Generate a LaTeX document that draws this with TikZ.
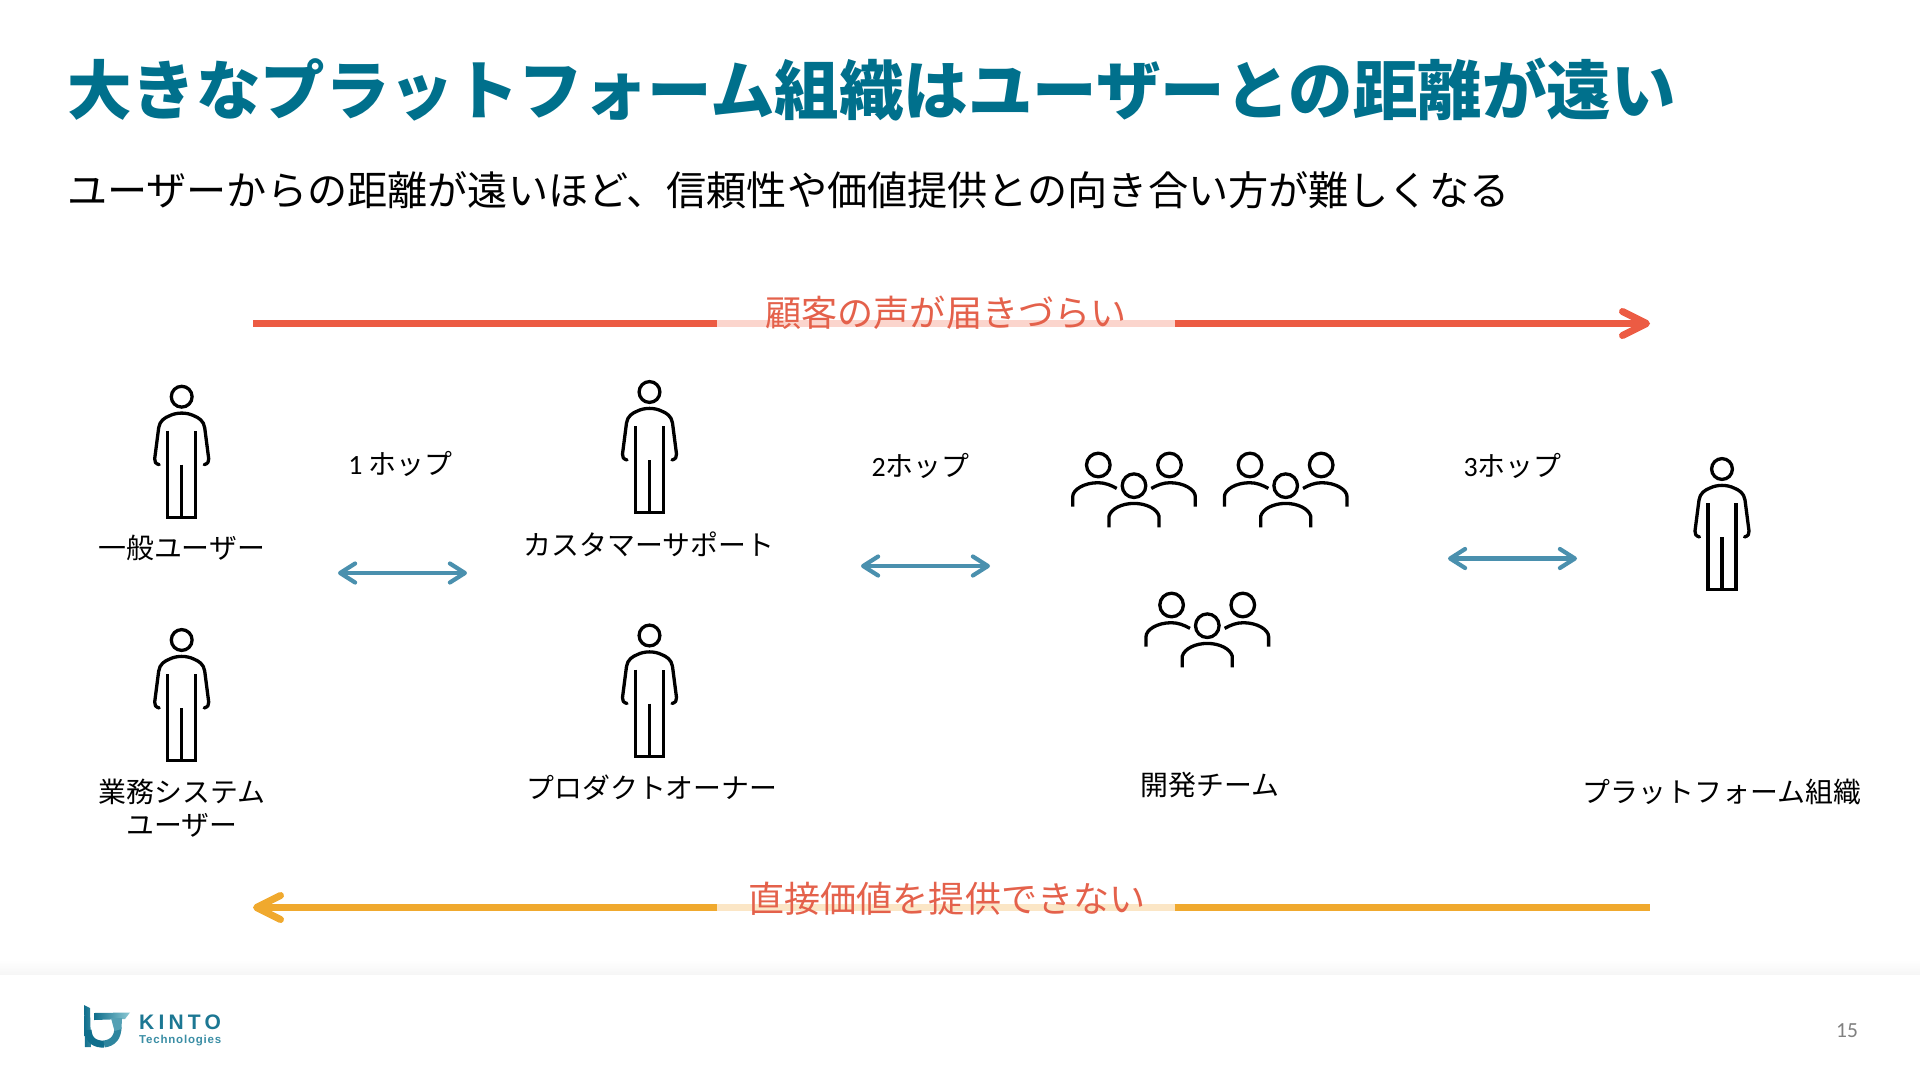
\documentclass[tikz,border=0pt]{standalone}
\usepackage{fontspec}
\usetikzlibrary{arrows.meta}
\setmainfont{Noto Sans CJK JP}
\newfontfamily\cjk{Noto Sans CJK JP}
\newfontfamily\latinf{Carlito}
\newfontfamily\kintof[LetterSpace=20]{Liberation Sans}
\newfontfamily\techf[LetterSpace=7]{Liberation Sans}
\definecolor{titleteal}{HTML}{00708C}
\definecolor{redline}{HTML}{EC5B43}
\definecolor{redfade}{HTML}{FBD5CD}
\definecolor{redtext}{HTML}{E4614B}
\definecolor{amber}{HTML}{F0A92E}
\definecolor{amberfade}{HTML}{FBE6C6}
\definecolor{hopblue}{HTML}{4A90AE}
\definecolor{logoA}{HTML}{0F6E8C}
\definecolor{logoB}{HTML}{8CC9D4}
\tikzset{
  x=1pt,y=-1pt,
  icon/.style={draw=black,line width=3.3pt,fill=none},
  person/.pic={
    \draw[icon] (0,0) circle (10.4);
    \draw[icon,line cap=round,line join=round] (-22.5,68) .. controls (-26,67) and (-27.5,65) .. (-27,62)
      -- (-23,31) .. controls (-22,24) and (-17,21) .. (-12,19) .. controls (-5,15.5) and (5,15.5) .. (12,19)
      .. controls (17,21) and (22,24) .. (23,31) -- (27,62) .. controls (27.5,65) and (26,67) .. (22.5,68);
    \draw[icon,line cap=butt,line join=miter] (-14,34) -- (-14,120.7) -- (14,120.7) -- (14,34);
    \draw[icon,line cap=butt] (0,68) -- (0,120.7);
  },
  team/.pic={
    \foreach \hx/\hy in {-35.7/-20.7,0/0,35.5/-20.7} \draw[icon] (\hx,\hy) circle (11.8);
    \draw[icon] (-61.3,21) -- (-61.3,11) .. controls (-61.3,4) and (-50,-3) .. (-36,-3) .. controls (-29,-3) and (-23,-0.5) .. (-17.3,2.7);
    \draw[icon] (61.3,21) -- (61.3,11) .. controls (61.3,4) and (50,-3) .. (36,-3) .. controls (29,-3) and (23,-0.5) .. (17.3,2.7);
    \draw[icon] (-25,41.7) -- (-25,30.5) .. controls (-23,23) and (-12,17.7) .. (0,17.7) .. controls (12,17.7) and (23,23) .. (25,30.5) -- (25,41.7);
  },
  label/.style={inner sep=0pt,font=\cjk\fontsize{27.9}{33.2}\selectfont,text=black,align=center},
  hoparrow/.style={draw=hopblue,line width=4.2pt,{Straight Barb[length=15pt,width=19pt,round]}-{Straight Barb[length=15pt,width=19pt,round]}},
  mainline/.style={line width=7pt},
  bandtext/.style={inner sep=0pt,text=redtext,font=\cjk\fontsize{36.1}{43}\selectfont},
}
\begin{document}
\begin{tikzpicture}
\useasboundingbox (0,0) rectangle (1920,1080);
\fill[white] (0,0) rectangle (1920,1080);
\shade[top color=white,bottom color=black!3.5] (0,960) rectangle (1920,974);

% title
\node[anchor=west,inner sep=0pt,text=titleteal,font=\cjk\bfseries\fontsize{64.5}{76}\selectfont] (title) at (67,90) {大きなプラットフォーム組織はユーザーとの距離が遠い};
\node[anchor=west,inner sep=0pt,text=black,font=\cjk\fontsize{40.15}{48}\selectfont] (subtitle) at (67,190) {ユーザーからの距離が遠いほど、信頼性や価値提供との向き合い方が難しくなる};

% top band
\coordinate (ta) at (253,323.5); \coordinate (tb) at (716.5,323.5); \coordinate (tc) at (1174.5,323.5); \coordinate (td) at (1650,323.5);
\draw[mainline,draw=redline] (ta) -- (tb);
\draw[mainline,draw=redfade] (tb) -- (tc);
\draw[mainline,draw=redline,-{Straight Barb[length=24pt,width=24pt,round]}] (tc) -- (td);
\node[bandtext] (voice) at (946,313) {顧客の声が届きづらい};

% bottom band
\coordinate (ba) at (253,907.5); \coordinate (bb) at (716.5,907.5); \coordinate (bc) at (1174.5,907.5); \coordinate (bd) at (1650,907.5);
\draw[mainline,draw=amber,{Straight Barb[length=24pt,width=24pt,round]}-] (ba) -- (bb);
\draw[mainline,draw=amberfade] (bb) -- (bc);
\draw[mainline,draw=amber] (bc) -- (bd);
\node[bandtext] (value) at (947,898.5) {直接価値を提供できない};

% persons
\pic at (181.7,396.7) {person};
\pic at (181.7,640) {person};
\pic at (649.5,392) {person};
\pic at (649.5,635.5) {person};
\pic at (1722,469) {person};

% teams
\pic at (1134,485.7) {team};
\pic at (1285.7,485.7) {team};
\pic at (1207.3,625.7) {team};

% labels
\node[label] (l1) at (181.7,548) {一般ユーザー};
\node[label] (l2) at (181.7,808) {業務システム\\ユーザー};
\node[label] (l3) at (649,544) {カスタマーサポート};
\node[label] (l4) at (652,788) {プロダクトオーナー};
\node[label] (l5) at (1210,785) {開発チーム};
\node[label] (l6) at (1722,791.5) {プラットフォーム組織};

\node[label] (h1) at (400.5,464) {{\latinf 1} ホップ};
\node[label] (h2) at (920.5,466) {{\latinf 2}ホップ};
\node[label] (h3) at (1512.5,466) {{\latinf 3}ホップ};

% hop arrows
\coordinate (a1l) at (338,573); \coordinate (a1r) at (467,573);
\coordinate (a2l) at (861,566); \coordinate (a2r) at (990,566);
\coordinate (a3l) at (1448,558.5); \coordinate (a3r) at (1577,558.5);
\draw[hoparrow] (a1l) -- (a1r);
\draw[hoparrow] (a2l) -- (a2r);
\draw[hoparrow] (a3l) -- (a3r);

% logo
\shade[left color=logoA,right color=logoA!75!logoB] (84,1005) -- (90,1008) -- (91,1047) -- (85,1047) -- cycle;
\draw[line width=7pt,draw=logoA] (88,1030) .. controls (88.5,1041) and (96,1044.5) .. (104,1044) ;
\draw[line width=7pt,draw=logoA!75!logoB] (104,1044) .. controls (113,1043) and (118,1037) .. (118,1027);
\shade[left color=logoA,right color=logoB] (94,1013) -- (130,1012.5) -- (125,1019) -- (94,1020) -- cycle;
\fill[logoA!45!logoB] (111,1018) -- (122,1018) -- (121.5,1029) -- (114.5,1031) -- cycle;
\node[anchor=west,inner sep=0pt,text=logoA!90!logoB,font=\kintof\bfseries\fontsize{21}{24}\selectfont] (kinto) at (139,1022) {KINTO};
\node[anchor=west,inner sep=0pt,text=logoA!65!logoB,font=\techf\bfseries\fontsize{11.5}{14}\selectfont] (tech) at (139,1041) {Technologies};

% page number
\node[inner sep=0pt,text=black!50,font=\latinf\fontsize{21.5}{24}\selectfont] (page) at (1847,1031) {15};
\end{tikzpicture}
\end{document}
